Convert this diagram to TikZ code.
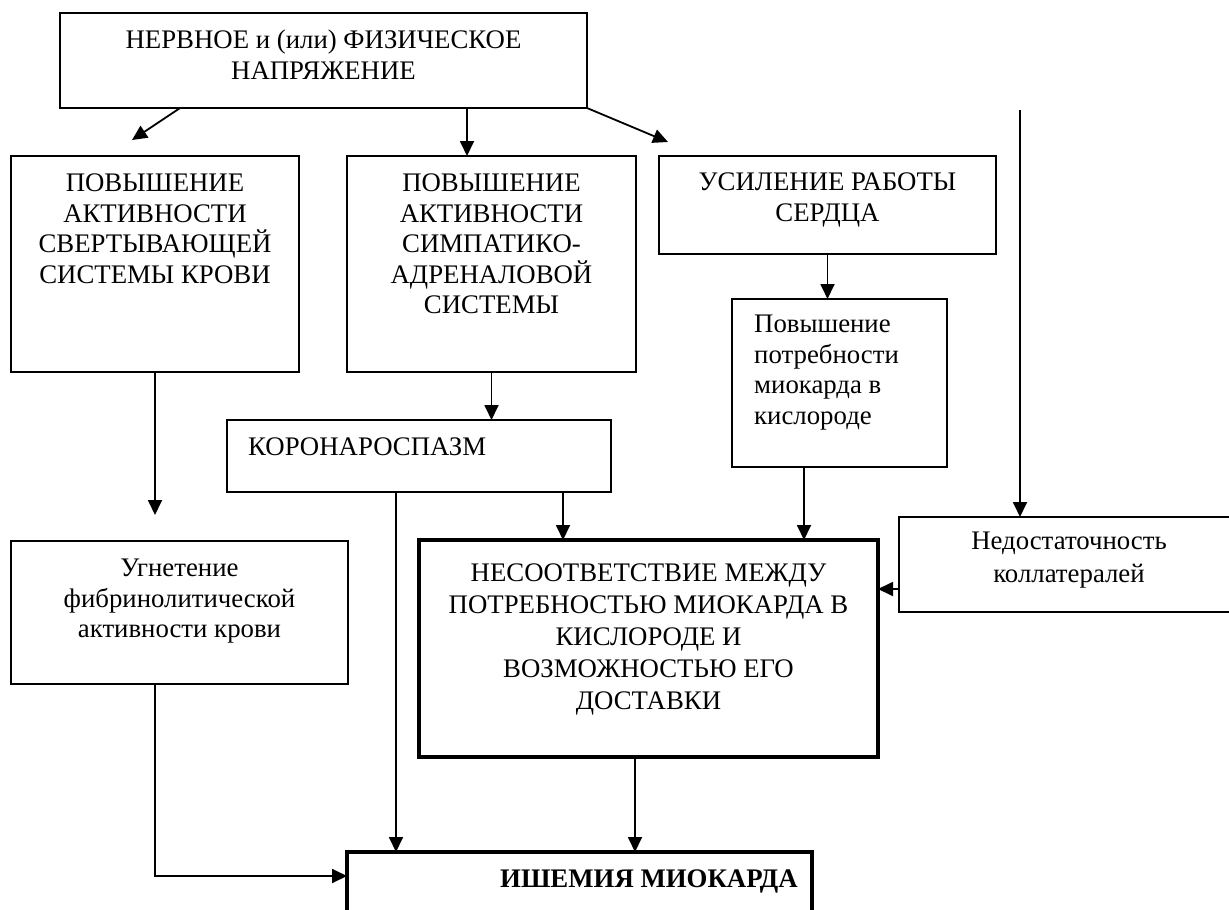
\documentclass[tikz,border=0pt]{standalone}
\usepackage{fontspec}
\setmainfont{Liberation Serif}
\usetikzlibrary{shapes,arrows.meta,positioning}
\usetikzlibrary{calc}

\begin{document}
\begin{tikzpicture}
  [
    x=1pt, y=-1pt,
    Box/.style={rectangle, draw=black, line width=1.8pt, inner sep=0pt, outer sep=0pt, anchor=north west},
    Bold/.style={Box, line width=3.6pt},
    Txt/.style={inner sep=0pt, align=center, anchor=north, font=\fontsize{26.8}{30.5}\selectfont},
    Arr/.style={draw, line width=1.8pt, -{Triangle[length=15pt, width=14pt]}}
  ]
  \useasboundingbox (0,0) rectangle (1229,910);

  % Nodes
  \node[Box, minimum width=527pt, minimum height=95pt,
    label={[Txt, yshift=-17pt]north:НЕРВНОЕ и (или) ФИЗИЧЕСКОЕ\\НАПРЯЖЕНИЕ}] (nerv) at (60,13) {};

  \node[Box, minimum width=288pt, minimum height=216pt,
    label={[Txt, yshift=-18pt]north:ПОВЫШЕНИЕ\\АКТИВНОСТИ\\СВЕРТЫВАЮЩЕЙ\\СИСТЕМЫ КРОВИ}] (svert) at (11,156) {};

  \node[Box, minimum width=289pt, minimum height=216pt,
    label={[Txt, yshift=-18pt]north:ПОВЫШЕНИЕ\\АКТИВНОСТИ\\СИМПАТИКО-\\АДРЕНАЛОВОЙ\\СИСТЕМЫ}] (simp) at (347,156) {};

  \node[Box, minimum width=337pt, minimum height=98pt,
    label={[Txt, yshift=-17pt]north:УСИЛЕНИЕ РАБОТЫ\\СЕРДЦА}] (serd) at (659,156) {};

  \node[Box, minimum width=215pt, minimum height=168pt,
    label={[Txt, align=left, anchor=north west, xshift=22pt, yshift=-16pt]north west:Повышение\\потребности\\миокарда в\\кислороде}] (potr) at (732,299) {};

  \node[Box, minimum width=384pt, minimum height=72pt,
    label={[Txt, anchor=north west, xshift=21pt, yshift=-18pt]north west:КОРОНАРОСПАЗМ}] (koron) at (227,420) {};

  \node[Box, minimum width=337pt, minimum height=143pt,
    label={[Txt, yshift=-18pt]north:Угнетение\\фибринолитической\\активности крови}] (ugn) at (11,541) {};

  \node[Bold, minimum width=459pt, minimum height=217pt,
    label={[Txt, font=\fontsize{26.8}{32}\selectfont, yshift=-24pt]north:НЕСООТВЕТСТВИЕ МЕЖДУ\\ПОТРЕБНОСТЬЮ МИОКАРДА В\\КИСЛОРОДЕ И\\ВОЗМОЖНОСТЬЮ ЕГО\\ДОСТАВКИ}] (nesoot) at (419,540) {};

  \node[Box, minimum width=340pt, minimum height=95pt,
    label={[Txt, font=\fontsize{26.8}{33}\selectfont, yshift=-15pt]north:Недостаточность\\коллатералей}] (ned) at (899,517) {};

  \node[Bold, minimum width=465pt, minimum height=120pt,
    label={[Txt, font=\fontsize{26.8}{30.5}\selectfont\bfseries, anchor=north west, xshift=153pt, yshift=-18pt]north west:ИШЕМИЯ МИОКАРДА}] (ishem) at (347,852) {};

  \coordinate (t1) at (132,140);
  \coordinate (t3) at (668,142);
  \coordinate (c0) at (1020,110);

  % Lines
  \draw[Arr] ($(nerv.south west)+(120,0)$) -- (t1);
  \draw[Arr] ($(nerv.south west)+(407,0)$) -- ($(simp.north west)+(120,0)$);
  \draw[Arr] (nerv.south east) -- (t3);
  \draw[Arr] (c0) -- (c0 |- ned.north);
  \draw[Arr] (serd.south) -- (serd.south |- potr.north);
  \draw[Arr, shorten >=26pt] (svert.south) -- (svert.south |- ugn.north);
  \draw[Arr] (simp.south) -- (simp.south |- koron.north);
  \draw[Arr] ($(koron.south west)+(336,0)$) -- ($(nesoot.north west)+(144,0)$);
  \draw[Arr] ($(koron.south west)+(169,0)$) -- ($(ishem.north west)+(49,0)$);
  \draw[Arr] ($(potr.south west)+(72,0)$) -- ($(nesoot.north west)+(385,0)$);
  \draw[Arr] ($(ned.south west)+(0,-23)$) -- ($(nesoot.south east)+(0,-168)$);
  \draw[Arr] ($(ugn.south west)+(144,0)$) |- ($(ishem.north west)+(0,24)$);
  \draw[Arr] ($(nesoot.south west)+(216,0)$) -- ($(ishem.north west)+(288,0)$);

\end{tikzpicture}
\end{document}
